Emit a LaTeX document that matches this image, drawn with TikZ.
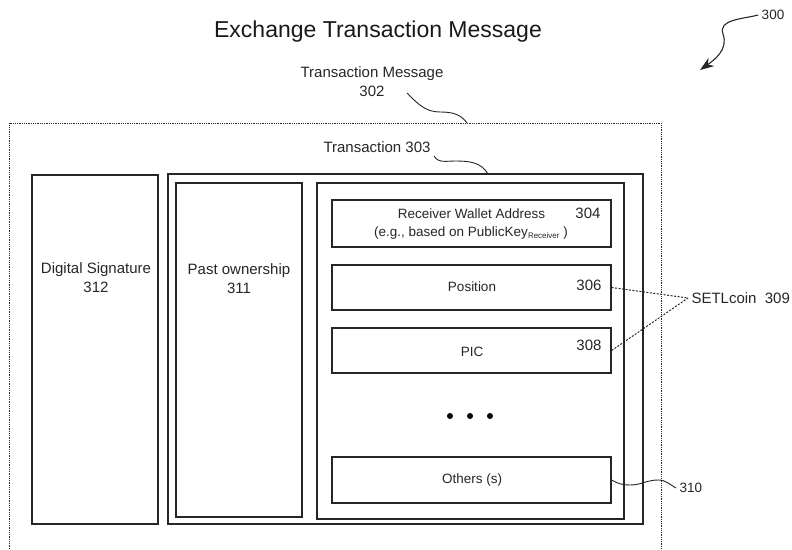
\documentclass[tikz,border=0pt]{standalone}
\usepackage{fontspec}
\setmainfont{Liberation Sans}
\usetikzlibrary{arrows.meta}
\usetikzlibrary{positioning}

\begin{document}
\begin{tikzpicture}[x=1pt, y=-1pt,
    box/.style={draw=black!85, line width=1.3pt, inner sep=0pt},
    lbl/.style={font=\fontsize{15}{19}\selectfont, align=center, text=black!85},
    small/.style={font=\fontsize{13.5}{16}\selectfont, text=black!85},
    lead/.style={draw=black!85, line width=0.9pt},
    dotlead/.style={draw=black!85, line width=1pt, dash pattern=on 2pt off 1.5pt}]

\useasboundingbox (0,0) rectangle (792,549);

% title
\node[font=\fontsize{23}{26}\selectfont, text=black!90] (title) at (378,32) {Exchange Transaction Message};

% figure number
\node[font=\fontsize{13.5}{16}\selectfont, text=black!85] (fig) at (773,15) {300};
\coordinate (figtip) at (700,70);
\draw[lead, line width=1.1pt, -{Stealth[length=14pt, width=10pt]}] (fig.west) to[out=195, in=110] (723,34) to[out=-70, in=35] (figtip);

% message rectangle (dotted, runs off the bottom)
\draw[black!85, line width=0.8pt, densely dotted] (9,549) -- (9,123) -- (661,123) -- (661,549);
\node[lbl] (msg) at (372,82) {Transaction Message\\302};
\coordinate (msgtop) at (467,123);
\draw[lead] (407,93) to[out=-45, in=180] (440,112) to[out=0, in=125] (msgtop);

% signature and transaction
\node[box, minimum width=126, minimum height=349] (sig) at (95,349.5) {};
\node[lbl] at (96,278) {Digital Signature\\312};
\node[box, minimum width=475, minimum height=350] (trans) at (405.5,349) {};
\node[lbl] (t303) at (377,147) {Transaction 303};
\coordinate (transtop) at (488,174);
\draw[lead] (t303.south east) to[out=-60, in=180] (455,161) to[out=0, in=120] (transtop);

% past ownership
\node[box, minimum width=126, minimum height=334] (past) at (239,350) {};
\node[lbl] at (239,279) {Past ownership\\311};

% coin fields
\node[box, minimum width=307, minimum height=336] (coin) at (470.5,351) {};
\node[box, minimum width=279, minimum height=47] (addr) at (471.5,223.5) {};
\node[small] at (471.5,214) {Receiver Wallet Address};
\node[lbl] at (588,213) {304};
\node[small] at (471,233) {(e.g., based on PublicKey{\fontsize{8}{8}\selectfont\raisebox{-2pt}{Receiver}} )};

\node[box, minimum width=279, minimum height=45] (pos) at (471.5,287.5) {};
\node[small] at (472,287) {Position};
\node[lbl] at (589,285) {306};

\node[box, minimum width=279, minimum height=45] (pic) at (471.5,350.5) {};
\node[small] at (472,352) {PIC};
\node[lbl] at (589,345) {308};

% more fields
\foreach \dx in {450,470,490}
  \fill[black] (\dx,416) circle (3);

\node[box, minimum width=279, minimum height=46] (others) at (471.5,480) {};
\node[small] at (472,480) {Others (s)};

% setlcoin
\node[lbl, anchor=west] (setl) at (688,298) {SETLcoin\ \ 309};
\draw[dotlead] (pos.east) -- (setl.west);
\draw[dotlead] (pic.east) -- (setl.west);

% 310
\node[small, anchor=west] (n310) at (676,488) {310};
\draw[lead] (others.east) to[out=-30, in=180] (630,485) to[out=0, in=180] (658,480) to[out=0, in=150] (n310.west);

\end{tikzpicture}
\end{document}
